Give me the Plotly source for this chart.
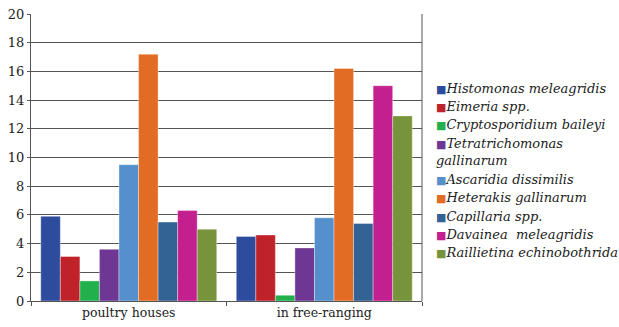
import plotly.graph_objects as go

# Sites where birds were sampled
groups = ["poultry houses", "in free-ranging"]

# Parasite species (legend order)
species = [
    "Histomonas meleagridis",
    "Eimeria spp.",
    "Cryptosporidium baileyi",
    "Tetratrichomonas<br>gallinarum",
    "Ascaridia dissimilis",
    "Heterakis gallinarum",
    "Capillaria spp.",
    "Davainea  meleagridis",
    "Raillietina echinobothrida",
]

# Values per species: [poultry houses, in free-ranging]
histomonas = [5.9, 4.5]
eimeria = [3.1, 4.6]
cryptosporidium = [1.4, 0.4]
tetratrichomonas = [3.6, 3.7]
ascaridia = [9.5, 5.8]
heterakis = [17.2, 16.2]
capillaria = [5.5, 5.4]
davainea = [6.3, 15.0]
raillietina = [5.0, 12.9]

series = [histomonas, eimeria, cryptosporidium, tetratrichomonas, ascaridia,
          heterakis, capillaria, davainea, raillietina]

colors = ["#2E4C9E", "#C0222A", "#22B04C", "#6F3794", "#5590CC",
          "#E36C25", "#336295", "#C41F8E", "#77933C"]

y_ticks = [0, 2, 4, 6, 8, 10, 12, 14, 16, 18, 20]

FONT = "DejaVu Serif"

fig = go.Figure()
for name, vals, col in zip(species, series, colors):
    fig.add_trace(go.Bar(
        x=groups, y=vals, name=name.replace("<br>", " "),
        marker=dict(color=col, line=dict(color="rgba(255,255,255,0.6)", width=0.6)),
        showlegend=False,
    ))

# Legend drawn as a column of coloured squares with italic labels
line_h = 18.3
y0 = 88
line = 0
for name, col in zip(species, colors):
    nlines = name.count("<br>") + 1
    yc = y0 + (line + (nlines - 1) / 2) * line_h
    fig.add_annotation(
        xref="paper", yref="paper",
        x=(434 - 31) / 391, y=(301 - yc) / 287,
        xanchor="left", yanchor="middle", showarrow=False, align="left",
        text=f"<span style='color:{col};font-size:11px;font-style:normal'>■</span><i>{name}</i>",
        font=dict(family=FONT, size=13, color="#222222"),
    )
    line += nlines

fig.update_layout(
    width=619, height=327,
    margin=dict(l=31, r=197, t=14, b=26),
    paper_bgcolor="white", plot_bgcolor="white",
    barmode="group", bargap=0.1, bargroupgap=0,
    font=dict(family=FONT, size=13, color="#222222"),
    xaxis=dict(
        automargin=False,
        showline=True, linecolor="#555555", linewidth=1,
        ticks="outside", tickson="boundaries", ticklen=4, tickcolor="#555555",
        mirror=False, showgrid=False,
        tickfont=dict(family=FONT, size=12.5, color="#222222"),
    ),
    yaxis=dict(
        automargin=False,
        range=[0, 20], tickvals=y_ticks,
        showline=True, linecolor="#555555", linewidth=1,
        ticks="outside", ticklen=3, tickcolor="#555555",
        showgrid=True, gridcolor="#555555", gridwidth=1,
        zeroline=False,
        tickfont=dict(family=FONT, size=13, color="#222222"),
    ),
    shapes=[dict(type="line", xref="paper", yref="paper", x0=1, x1=1, y0=0, y1=1,
                 line=dict(color="#555555", width=1))],
)

fig.write_html("out.html")
